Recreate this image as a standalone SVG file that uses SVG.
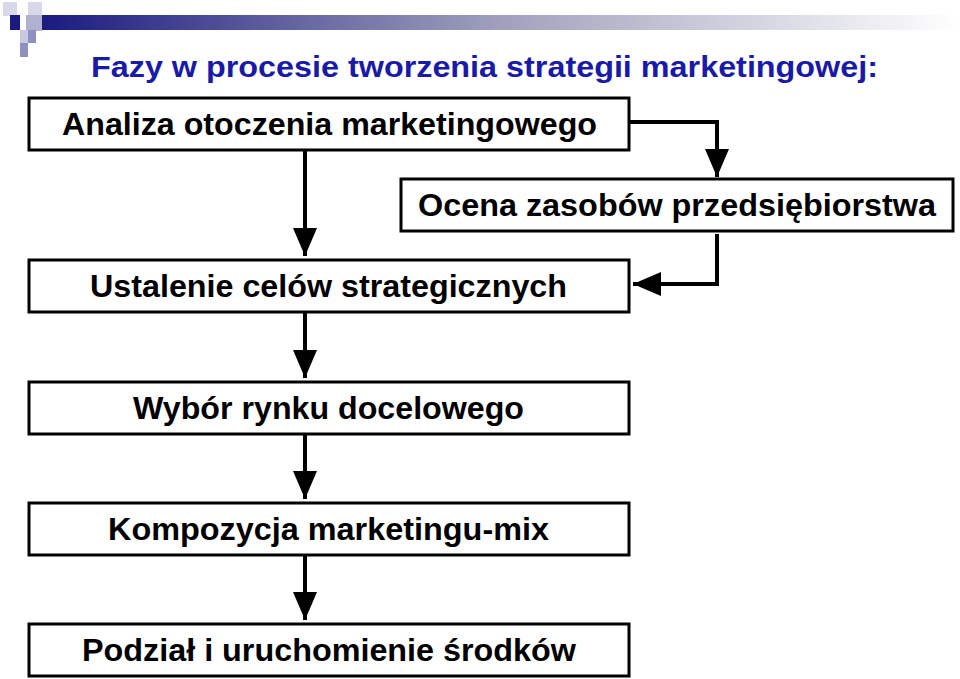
<svg xmlns="http://www.w3.org/2000/svg" width="960" height="679" viewBox="0 0 960 679">
<defs>
<linearGradient id="g" x1="0" x2="1"><stop offset="0" stop-color="#1a1a80"/><stop offset="0.5" stop-color="#a0a0bc"/><stop offset="1" stop-color="#ffffff"/></linearGradient>
<marker id="a" markerWidth="8" markerHeight="8" refX="7" refY="4" orient="auto" markerUnits="strokeWidth"><path d="M0,1 L7,4 L0,7 z" fill="#000"/></marker>
<style>
.b{fill:#fff;stroke:#000;stroke-width:3}
.t{font-family:"Liberation Sans",Arial,sans-serif;font-weight:bold;font-size:31px;fill:#000}
.c{fill:none;stroke:#000;stroke-width:4}
</style>
</defs>
<g id="decor">
<rect x="40" y="15" width="920" height="15" fill="url(#g)"/>
<rect x="3" y="2" width="14" height="14" fill="#d8d8e8"/>
<rect x="28" y="2" width="14" height="14" fill="#d8d8e8"/>
<rect x="10" y="15" width="10" height="15" fill="#1a1a80"/>
<rect x="26" y="15" width="16" height="16" fill="#b0b0d0"/>
<rect x="20" y="30" width="8" height="13" fill="#c8c8e0"/>
<rect x="28" y="30" width="8" height="13" fill="#9090c0"/>
<rect x="20" y="43" width="8" height="14" fill="#9090c0"/>
</g>
<text x="91" y="77" font-family="Liberation Sans,Arial,sans-serif" font-weight="bold" font-size="29" fill="#1a1aa8" textLength="787" lengthAdjust="spacingAndGlyphs">Fazy w procesie tworzenia strategii marketingowej:</text>
<g id="connectors">
<path class="c" d="M305,150 V256" marker-end="url(#a)"/>
<path class="c" d="M629,122 H717 V177" marker-end="url(#a)"/>
<path class="c" d="M717,234 V284 H633" marker-end="url(#a)"/>
<path class="c" d="M305,312 V378" marker-end="url(#a)"/>
<path class="c" d="M305,434 V499" marker-end="url(#a)"/>
<path class="c" d="M305,555 V620" marker-end="url(#a)"/>
</g>
<g id="n1"><rect class="b" x="29" y="98" width="600" height="52"/><text class="t" x="62" y="135" textLength="535" lengthAdjust="spacingAndGlyphs">Analiza otoczenia marketingowego</text></g>
<g id="n2"><rect class="b" x="401" y="179" width="552" height="52"/><text class="t" x="418" y="216" textLength="518" lengthAdjust="spacingAndGlyphs">Ocena zasobów przedsiębiorstwa</text></g>
<g id="n3"><rect class="b" x="29" y="260" width="600" height="52"/><text class="t" x="90" y="297" textLength="477" lengthAdjust="spacingAndGlyphs">Ustalenie celów strategicznych</text></g>
<g id="n4"><rect class="b" x="29" y="382" width="600" height="52"/><text class="t" x="133" y="419" textLength="391" lengthAdjust="spacingAndGlyphs">Wybór rynku docelowego</text></g>
<g id="n5"><rect class="b" x="29" y="503" width="600" height="52"/><text class="t" x="108" y="540" textLength="441" lengthAdjust="spacingAndGlyphs">Kompozycja marketingu-mix</text></g>
<g id="n6"><rect class="b" x="29" y="624" width="600" height="52"/><text class="t" x="82" y="661" textLength="494" lengthAdjust="spacingAndGlyphs">Podział i uruchomienie środków</text></g>
</svg>
